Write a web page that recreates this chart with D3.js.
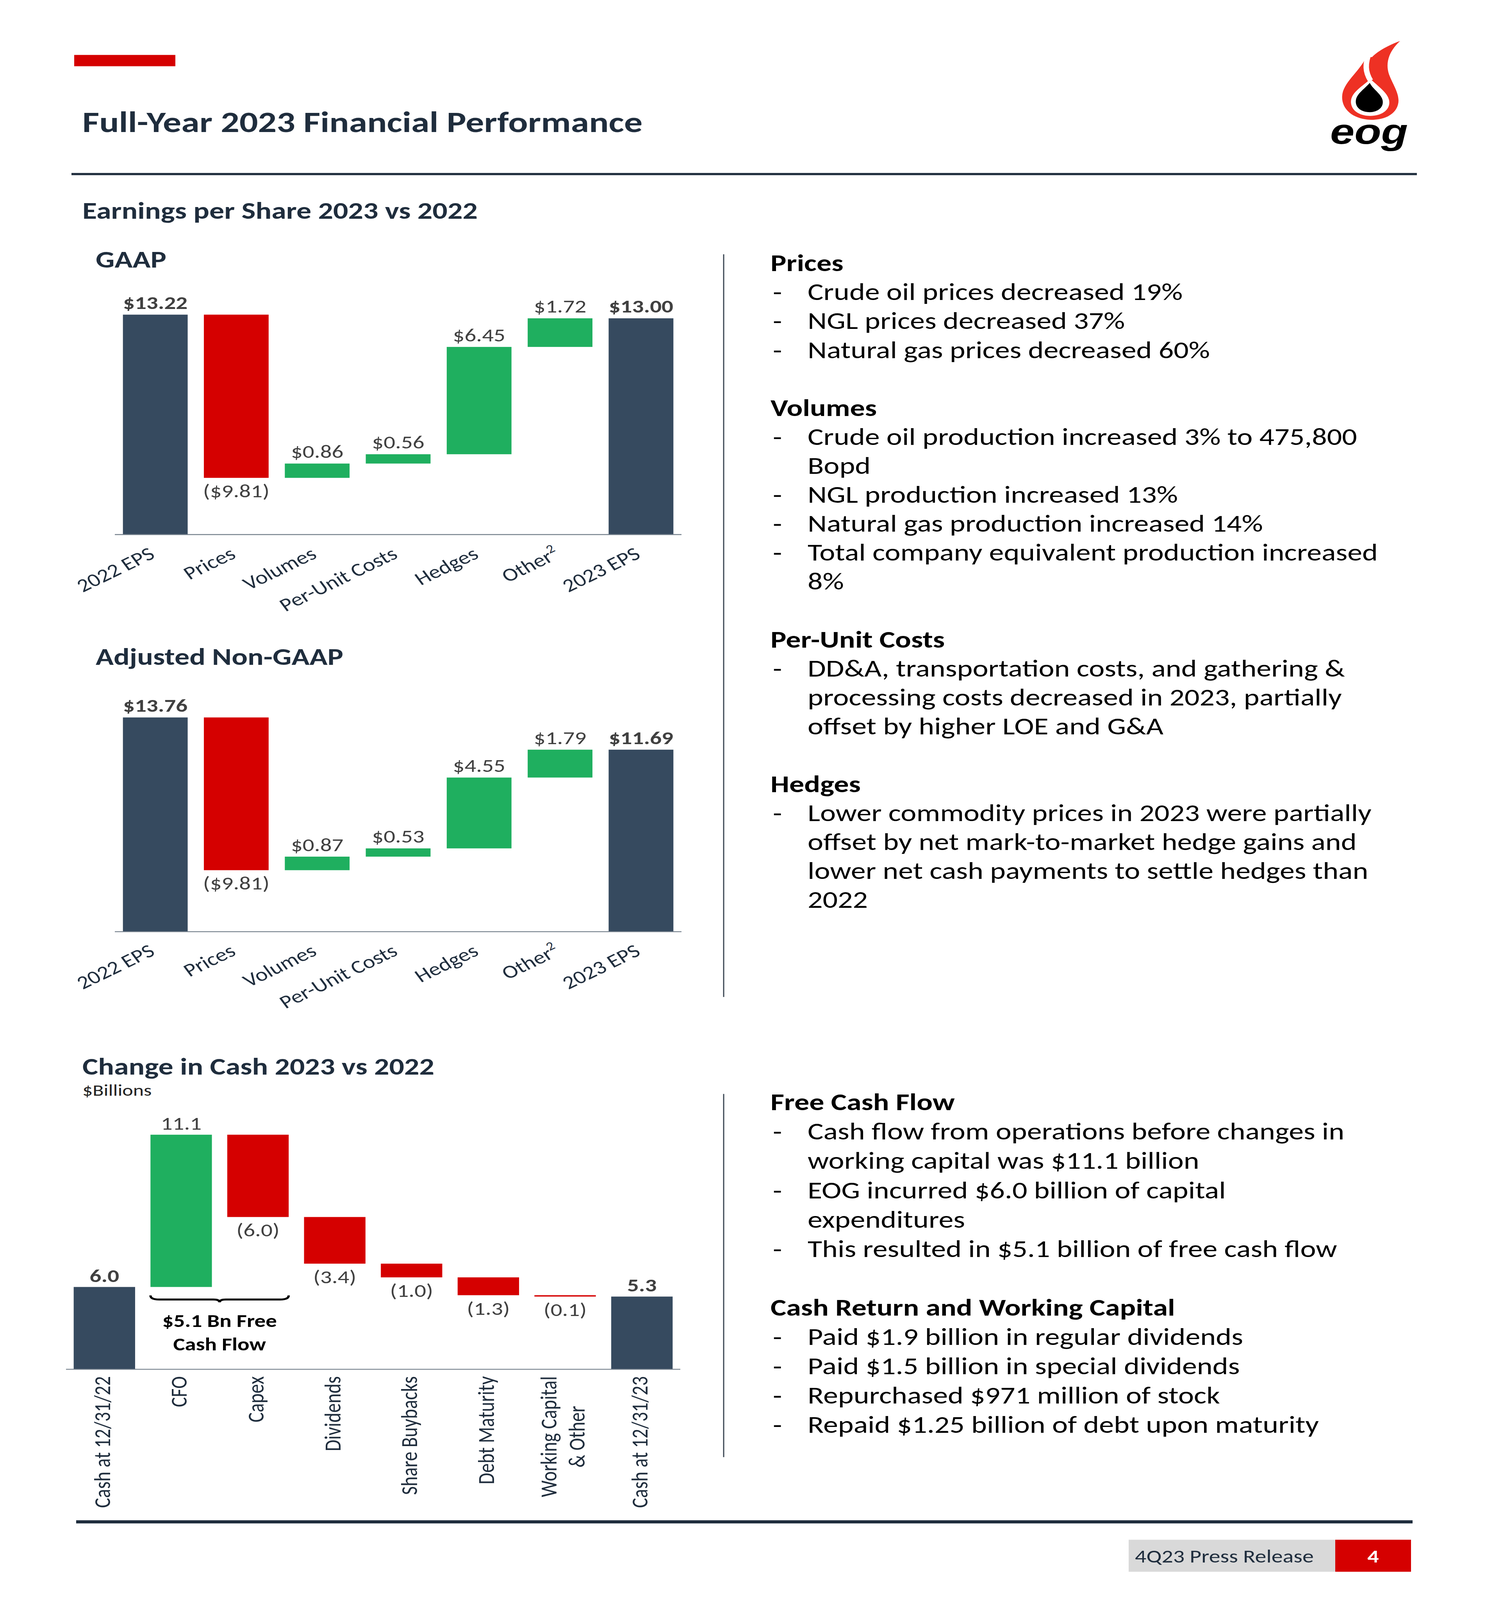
<!DOCTYPE html>
<html>
<head>
<meta charset="utf-8">
<script src="https://cdn.jsdelivr.net/npm/d3@7"></script>
<style>
  html, body { margin: 0; padding: 0; background: #fff; overflow: hidden; }
  svg { display: block; }
</style>
</head>
<body>
<svg id="page"></svg>
<script>
// ---- data -------------------------------------------------------------------
const epsCategories   = ['2022 EPS', 'Prices', 'Volumes', 'Per-Unit Costs', 'Hedges', 'Other', '2023 EPS'];
const epsTypes        = ['total', 'delta', 'delta', 'delta', 'delta', 'delta', 'total'];
const gaapValues      = [13.22, -9.81, 0.86, 0.56, 6.45, 1.72, 13.00];
const nonGaapValues   = [13.76, -9.81, 0.87, 0.53, 4.55, 1.79, 11.69];

const cashCategories  = [['Cash at 12/31/22'], ['CFO'], ['Capex'], ['Dividends'], ['Share Buybacks'],
                         ['Debt Maturity'], ['Working Capital', '& Other'], ['Cash at 12/31/23']];
const cashTypes       = ['total', 'delta', 'delta', 'delta', 'delta', 'delta', 'delta', 'total'];
const cashValues      = [6.0, 11.1, -6.0, -3.4, -1.0, -1.3, -0.1, 5.3];

const topNotes = [
    { heading: 'Prices', bullets: [
        ['Crude oil prices decreased 19%'],
        ['NGL prices decreased 37%'],
        ['Natural gas prices decreased 60%']] },
    { heading: 'Volumes', bullets: [
        ['Crude oil production increased 3% to 475,800', 'Bopd'],
        ['NGL production increased 13%'],
        ['Natural gas production increased 14%'],
        ['Total company equivalent production increased', '8%']] },
    { heading: 'Per-Unit Costs', bullets: [
        ['DD&A, transportation costs, and gathering &', 'processing costs decreased in 2023, partially', 'offset by higher LOE and G&A']] },
    { heading: 'Hedges', bullets: [
        ['Lower commodity prices in 2023 were partially', 'offset by net mark-to-market hedge gains and', 'lower net cash payments to settle hedges than', '2022']] },
];
const bottomNotes = [
    { heading: 'Free Cash Flow', bullets: [
        ['Cash flow from operations before changes in', 'working capital was $11.1 billion'],
        ['EOG incurred $6.0 billion of capital', 'expenditures'],
        ['This resulted in $5.1 billion of free cash flow']] },
    { heading: 'Cash Return and Working Capital', bullets: [
        ['Paid $1.9 billion in regular dividends'],
        ['Paid $1.5 billion in special dividends'],
        ['Repurchased $971 million of stock'],
        ['Repaid $1.25 billion of debt upon maturity']] },
];

// ---- style ------------------------------------------------------------------
const W = 3805, H = 5097;
const FONT = "Carlito, Calibri, Lato, 'Open Sans', sans-serif";
const NAVY = '#1f2d3d';
const BAR_TOTAL = '#364a5f';
const RED = '#d50000';
const GREEN = '#1faf5f';
const LABEL = '#404040';

// the window can come out shorter than asked for, so stretch the page to fill it
const vw = window.innerWidth || W, vh = window.innerHeight || H;
const svg = d3.select('#page').attr('width', vw).attr('height', vh)
    .attr('viewBox', `0 0 ${W} ${H}`).attr('preserveAspectRatio', 'none')
    .style('font-family', FONT);

svg.append('rect').attr('width', W).attr('height', H).attr('fill', '#fff');

// ---- header -----------------------------------------------------------------
svg.append('rect').attr('x', 190).attr('y', 175).attr('width', 259).attr('height', 36).attr('fill', RED);
svg.append('text').attr('x', 211).attr('y', 421)
    .attr('font-size', 94).attr('font-weight', 700).attr('fill', NAVY)
    .text('Full-Year 2023 Financial Performance');
svg.append('rect').attr('x', 183).attr('y', 551).attr('width', 3445).attr('height', 7).attr('fill', NAVY);

// eog logo
const logo = svg.append('g').attr('transform', 'translate(3420,110) scale(0.3333)');
logo.append('path').attr('fill', '#ee3124')
    .attr('d', 'M270 815 C140 810 45 720 50 590 C55 460 180 360 232 222 L280 215 ' +
               'C330 150 420 95 495 62 C410 160 380 270 410 380 C440 480 490 560 482 650 ' +
               'C470 760 380 815 270 815 Z');
logo.append('path').attr('fill', 'none').attr('stroke', '#fff').attr('stroke-width', 42)
    .attr('d', 'M262 160 C222 280 228 360 268 440');
logo.append('path').attr('fill', '#fff')
    .attr('d', 'M268 425 C200 500 110 560 118 655 C126 742 200 778 265 778 ' +
               'C352 778 418 722 412 640 C406 560 330 500 268 425 Z');
logo.append('path').attr('fill', '#000')
    .attr('d', 'M262 462 C215 530 150 572 155 650 C160 712 210 742 262 742 ' +
               'C320 742 366 700 362 640 C358 570 290 530 262 462 Z');
svg.append('text').attr('x', 3605).attr('y', 458).attr('text-anchor', 'end')
    .attr('font-family', "'Liberation Sans', Arial, sans-serif")
    .attr('font-size', 112).attr('font-weight', 700).attr('font-style', 'italic')
    .attr('fill', '#000').text('eog');

// ---- section titles ---------------------------------------------------------
function title(x, y, txt, size, weight, color) {
    svg.append('text').attr('x', x).attr('y', y)
        .attr('font-size', size).attr('font-weight', weight || 700)
        .attr('fill', color || NAVY).text(txt);
}
title(211, 697, 'Earnings per Share 2023 vs 2022', 76);
title(245, 853, 'GAAP', 76);
title(245, 2118, 'Adjusted Non-GAAP', 76);
title(211, 3423, 'Change in Cash 2023 vs 2022', 76);
title(211, 3491, '$Billions', 52, 400, '#222');

// ---- waterfall helper -------------------------------------------------------
function waterfall(values, types) {
    let run = 0;
    return values.map((v, i) => {
        let y0, y1;
        if (types[i] === 'total') { y0 = 0; y1 = v; run = v; }
        else { y0 = run; y1 = run + v; run += v; }
        return { i, v, type: types[i], lo: Math.min(y0, y1), hi: Math.max(y0, y1) };
    });
}

function fill(d) {
    if (d.type === 'total') return BAR_TOTAL;
    return d.v < 0 ? RED : GREEN;
}

// ---- EPS charts -------------------------------------------------------------
function epsLabel(d) {
    const s = '$' + Math.abs(d.v).toFixed(2);
    return d.v < 0 ? `(${s})` : s;
}

function drawEps(values, axisY, unitPx) {
    const g = svg.append('g');
    const x = d3.scaleBand().domain(d3.range(epsCategories.length))
        .range([294, 1745]).paddingInner(0.2).paddingOuter(0.1);
    const y = d3.scaleLinear().domain([0, 14]).range([axisY, axisY - 14 * unitPx]);
    const rows = waterfall(values, epsTypes);

    g.selectAll('rect.bar').data(rows).enter().append('rect')
        .attr('class', 'bar')
        .attr('x', d => x(d.i)).attr('width', x.bandwidth())
        .attr('y', d => y(d.hi)).attr('height', d => y(d.lo) - y(d.hi))
        .attr('fill', fill);

    g.append('line').attr('x1', 294).attr('x2', 1745)
        .attr('y1', axisY).attr('y2', axisY)
        .attr('stroke', '#75808c').attr('stroke-width', 3);

    g.selectAll('text.val').data(rows).enter().append('text')
        .attr('class', 'val')
        .attr('x', d => x(d.i) + x.bandwidth() / 2)
        .attr('y', d => d.v < 0 ? y(d.lo) + 62 : y(d.hi) - 18)
        .attr('text-anchor', 'middle').attr('font-size', 59)
        .attr('font-weight', d => d.type === 'total' ? 700 : 400)
        .attr('fill', LABEL).text(epsLabel);

    const cat = g.selectAll('text.cat').data(epsCategories).enter().append('text')
        .attr('class', 'cat')
        .attr('transform', (c, i) => `translate(${x(i) + x.bandwidth() / 2 + 2},${axisY + 72}) rotate(-31)`)
        .attr('text-anchor', 'end').attr('font-size', 59).attr('fill', NAVY)
        .text(c => c);
    cat.filter(c => c === 'Other').append('tspan')
        .attr('font-size', 38).attr('dy', -24).text('2');
}

drawEps(gaapValues, 1703, 53.0);
drawEps(nonGaapValues, 2968, 49.6);

// ---- cash chart -------------------------------------------------------------
(function drawCash() {
    const g = svg.append('g');
    const axisY = 4362;
    const x = d3.scaleBand().domain(d3.range(cashCategories.length))
        .range([169, 1742]).paddingInner(0.2).paddingOuter(0.1);
    const y = d3.scaleLinear().domain([0, 18]).range([axisY, axisY - 18 * 43.7]);
    const rows = waterfall(cashValues, cashTypes);

    g.selectAll('rect.bar').data(rows).enter().append('rect')
        .attr('class', 'bar')
        .attr('x', d => x(d.i)).attr('width', x.bandwidth())
        .attr('y', d => y(d.hi)).attr('height', d => Math.max(4, y(d.lo) - y(d.hi)))
        .attr('fill', fill);

    g.append('line').attr('x1', 169).attr('x2', 1742)
        .attr('y1', axisY).attr('y2', axisY)
        .attr('stroke', '#75808c').attr('stroke-width', 3);

    g.selectAll('text.val').data(rows).enter().append('text')
        .attr('class', 'val')
        .attr('x', d => x(d.i) + x.bandwidth() / 2)
        .attr('y', d => d.v < 0 ? y(d.lo) + 62 : y(d.hi) - 16)
        .attr('text-anchor', 'middle').attr('font-size', 59)
        .attr('font-weight', d => d.type === 'total' ? 700 : 400)
        .attr('fill', LABEL)
        .text(d => d.v < 0 ? `(${Math.abs(d.v).toFixed(1)})` : d.v.toFixed(1));

    // vertical category labels, multi-line ones centred as a block
    cashCategories.forEach((lines, i) => {
        const cx = x(i) + x.bandwidth() / 2;
        const lh = 72;
        const grp = g.append('g');
        const texts = lines.map(ln => grp.append('text')
            .attr('font-size', 60).attr('fill', NAVY)
            .attr('text-anchor', 'middle').attr('dominant-baseline', 'middle')
            .text(ln));
        const maxLen = d3.max(texts, t => t.node().getComputedTextLength());
        texts.forEach((t, k) => {
            const off = (k - (lines.length - 1) / 2) * lh;
            t.attr('transform', `translate(${cx + off},${axisY + 22 + maxLen / 2}) rotate(-90)`);
        });
    });

    // free cash flow brace under CFO + Capex
    const x0 = x(1), x1 = x(2) + x.bandwidth(), xm = (x0 + x1) / 2;
    const yT = y(cashValues[0]) + 27, yM = yT + 13, yP = yM + 9;
    g.append('path').attr('fill', 'none').attr('stroke', '#000').attr('stroke-width', 6)
        .attr('d', `M${x0},${yT} Q${x0},${yM} ${x0 + 22},${yM} L${xm - 16},${yM} Q${xm},${yM} ${xm},${yP} ` +
                   `Q${xm},${yM} ${xm + 16},${yM} L${x1 - 22},${yM} Q${x1},${yM} ${x1},${yT}`);
    g.append('text').attr('x', xm).attr('y', yM + 88).attr('text-anchor', 'middle')
        .attr('font-size', 57).attr('font-weight', 700).attr('fill', '#000').text('$5.1 Bn Free');
    g.append('text').attr('x', xm).attr('y', yM + 162).attr('text-anchor', 'middle')
        .attr('font-size', 57).attr('font-weight', 700).attr('fill', '#000').text('Cash Flow');
})();

// ---- separators -------------------------------------------------------------
svg.append('line').attr('x1', 1853).attr('x2', 1853).attr('y1', 810).attr('y2', 3176)
    .attr('stroke', '#3b4653').attr('stroke-width', 3);
svg.append('line').attr('x1', 1853).attr('x2', 1853).attr('y1', 3485).attr('y2', 4642)
    .attr('stroke', '#3b4653').attr('stroke-width', 3);

// ---- notes ------------------------------------------------------------------
function notes(sections, startY, lh) {
    let row = 0;
    const g = svg.append('g').attr('font-size', 76).attr('fill', '#000');
    sections.forEach((s, si) => {
        if (si > 0) row += 1;
        g.append('text').attr('x', 1973).attr('y', startY + row * lh)
            .attr('font-weight', 700).text(s.heading);
        row += 1;
        s.bullets.forEach(b => {
            g.append('text').attr('x', 1979).attr('y', startY + row * lh).text('-');
            b.forEach(ln => {
                g.append('text').attr('x', 2068).attr('y', startY + row * lh).text(ln);
                row += 1;
            });
        });
    });
}
notes(topNotes, 864, 92.2);
notes(bottomNotes, 3537, 93.4);

// ---- footer -----------------------------------------------------------------
svg.append('rect').attr('x', 195).attr('y', 4843).attr('width', 3422).attr('height', 10).attr('fill', NAVY);
svg.append('rect').attr('x', 2890).attr('y', 4905).attr('width', 529).attr('height', 102).attr('fill', '#d9d9d9');
svg.append('rect').attr('x', 3419).attr('y', 4905).attr('width', 194).attr('height', 102).attr('fill', RED);
svg.append('text').attr('x', 2906).attr('y', 4977).attr('font-size', 58).attr('fill', NAVY)
    .text('4Q23 Press Release');
svg.append('text').attr('x', 3516).attr('y', 4977).attr('text-anchor', 'middle')
    .attr('font-size', 58).attr('font-weight', 700).attr('fill', '#fff').text('4');
</script>
</body>
</html>
